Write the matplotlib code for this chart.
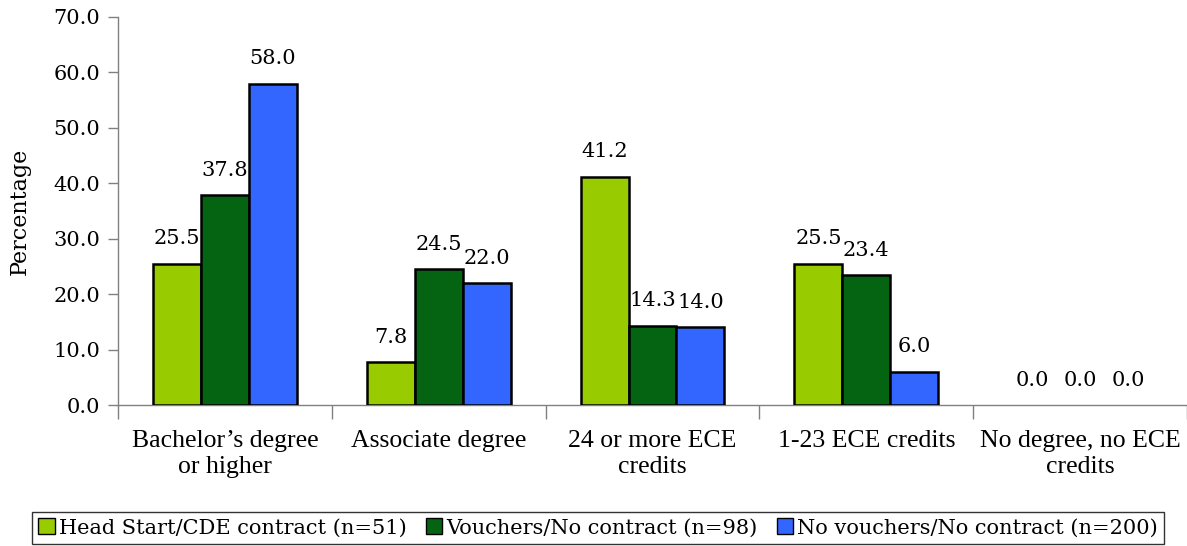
import numpy as np
from matplotlib import pyplot as plt
from matplotlib.patches import Patch

# education levels by contract group
categories = ["Bachelor\u2019s degree\nor higher", "Associate degree",
              "24 or more ECE\ncredits", "1-23 ECE credits",
              "No degree, no ECE\ncredits"]
head_start = [25.5, 7.8, 41.2, 25.5, 0.0]
vouchers = [37.8, 24.5, 14.3, 23.4, 0.0]
no_vouchers = [58.0, 22.0, 14.0, 6.0, 0.0]
series_names = ["Head Start/CDE contract (n=51)",
                "Vouchers/No contract (n=98)",
                "No vouchers/No contract (n=200)"]
colors = ["#99CC00", "#056411", "#3366FF"]

num_font = "DejaVu Serif"
cat_font = "Liberation Serif"

fig = plt.figure(figsize=(11.87, 5.46), dpi=100)
ax = fig.add_axes([0.0994, 0.2582, 0.9006, 0.7107])

x = np.arange(len(categories))
w = 0.224
for i, (vals, c) in enumerate(zip([head_start, vouchers, no_vouchers], colors)):
    pos = x + (i - 1) * w
    edges = ["black" if v > 0 else "none" for v in vals]
    ax.bar(pos, vals, width=w, color=c, edgecolor=edges, linewidth=1.8, zorder=3)
    for px, v in zip(pos, vals):
        ax.annotate(f"{v:.1f}", (px, v), xytext=(0, 11), textcoords="offset points",
                    ha="center", va="bottom", fontsize=15, family=num_font)

ax.set_xlim(-0.5, 4.5)
ax.set_ylim(0, 70)
ax.set_yticks(np.arange(0, 71, 10))
ax.set_yticklabels([f"{t:.1f}" for t in np.arange(0, 71, 10)], family=num_font, fontsize=15)
ax.set_xticks(np.arange(-0.5, 4.6, 1))
ax.set_xticklabels([])
ax.set_xticks(x, minor=True)
ax.set_xticklabels(categories, minor=True, family=cat_font, fontsize=18.5,
                   linespacing=1.25)
ax.tick_params(axis="x", which="minor", length=0, pad=18)
ax.tick_params(axis="x", which="major", length=10, width=1, color="#808080")
ax.tick_params(axis="y", length=7, width=1, color="#808080", pad=6)

for s in ["top", "right"]:
    ax.spines[s].set_visible(False)
for s in ["left", "bottom"]:
    ax.spines[s].set_color("#808080")
    ax.spines[s].set_linewidth(1)

ax.set_ylabel("Percentage", family=num_font, fontsize=16)
ax.yaxis.set_label_coords(-0.082, 0.5)

handles = [Patch(facecolor=c, edgecolor="black", linewidth=1) for c in colors]
leg = fig.legend(handles, series_names, loc="upper center", ncol=3,
                 bbox_to_anchor=(0.504, 0.0623), frameon=True, fancybox=False,
                 prop={"family": num_font, "size": 15}, handlelength=0.8,
                 handleheight=0.8, handletextpad=0.2, columnspacing=0.9,
                 borderpad=0.3, borderaxespad=0)
leg.get_frame().set_edgecolor("black")
leg.get_frame().set_linewidth(1)

fig.savefig("out.png", dpi=100)
